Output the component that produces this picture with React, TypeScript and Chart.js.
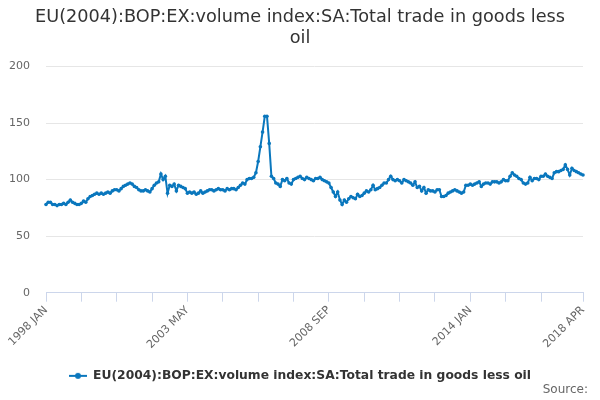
import { useEffect, useRef } from 'react';
import { Chart, registerables } from 'chart.js';

Chart.register(...registerables);

const SERIES_NAME = 'EU(2004):BOP:EX:volume index:SA:Total trade in goods less oil';
const MONTHS = ['JAN', 'FEB', 'MAR', 'APR', 'MAY', 'JUN', 'JUL', 'AUG', 'SEP', 'OCT', 'NOV', 'DEC'];
const START_YEAR = 1998;

// monthly values, one row per year (1998 JAN .. 2018 APR)
const tradeIndex = [
  78, 80, 80, 78, 78, 77, 78, 78, 79, 78, 80, 82, // 1998
  80, 79, 78, 78, 79, 81, 80, 83, 85, 86, 87, 88, // 1999
  87, 88, 87, 88, 89, 88, 90, 91, 91, 90, 92, 94, // 2000
  95, 96, 97, 96, 94, 93, 91, 90, 90, 91, 90, 89, // 2001
  92, 95, 97, 98, 105, 100, 103, 88, 95, 94, 96, 90, // 2002
  95, 94, 93, 92, 88, 89, 88, 89, 87, 88, 90, 88, // 2003
  89, 90, 91, 91, 90, 91, 92, 91, 91, 90, 92, 91, // 2004
  92, 92, 91, 93, 95, 97, 96, 100, 101, 101, 102, 106, // 2005
  116, 129, 142, 156, 156, 132, 103, 101, 97, 96, 94, 100, // 2006
  99, 101, 97, 96, 100, 101, 102, 103, 101, 100, 102, 101, // 2007
  100, 99, 101, 101, 102, 100, 99, 98, 97, 93, 89, 85, // 2008
  89, 82, 78, 82, 80, 83, 85, 84, 83, 87, 85, 86, // 2009
  88, 90, 89, 91, 95, 91, 92, 93, 95, 97, 97, 100, // 2010
  103, 100, 99, 100, 99, 97, 100, 99, 98, 97, 95, 98, // 2011
  93, 94, 90, 93, 88, 91, 90, 90, 89, 91, 91, 85, // 2012
  85, 86, 88, 89, 90, 91, 90, 89, 88, 89, 95, 95, // 2013
  96, 95, 96, 97, 98, 94, 96, 97, 97, 96, 98, 98, // 2014
  98, 97, 98, 100, 99, 99, 103, 106, 104, 103, 101, 100, // 2015
  97, 96, 97, 102, 99, 101, 101, 100, 103, 103, 105, 103, // 2016
  102, 101, 106, 107, 107, 108, 109, 113, 109, 104, 110, 108, // 2017
  107, 106, 105, 104, // 2018
];

const periods = tradeIndex.map(
  (_, i) => `${START_YEAR + Math.floor(i / 12)} ${MONTHS[i % 12]}`
);
const labelledTicks = ['1998 JAN', '2003 MAY', '2008 SEP', '2014 JAN', '2018 APR'];
const yTicks = [0, 50, 100, 150, 200];

const LINE_COLOR = '#0a77bd';
const FONT = '"DejaVu Sans", sans-serif';

function legendMarker() {
  const c = document.createElement('canvas');
  c.width = 18;
  c.height = 10;
  const ctx = c.getContext('2d');
  if (ctx) {
    ctx.strokeStyle = LINE_COLOR;
    ctx.fillStyle = LINE_COLOR;
    ctx.lineWidth = 2;
    ctx.beginPath();
    ctx.moveTo(0, 5);
    ctx.lineTo(18, 5);
    ctx.stroke();
    ctx.beginPath();
    ctx.arc(9, 5, 3, 0, Math.PI * 2);
    ctx.fill();
  }
  return c;
}

const sourceNote = {
  id: 'sourceNote',
  afterDraw(chart: Chart) {
    const { ctx, width, height } = chart;
    ctx.save();
    ctx.font = `12px ${FONT}`;
    ctx.fillStyle = '#666';
    ctx.textAlign = 'right';
    ctx.textBaseline = 'bottom';
    ctx.fillText('Source:', width - 12, height - 4);
    ctx.restore();
  },
};

export default function App() {
  const canvasRef = useRef<HTMLCanvasElement | null>(null);
  const chartRef = useRef<Chart | null>(null);

  useEffect(() => {
    const ctx = canvasRef.current?.getContext('2d');
    if (!ctx) return;

    if (chartRef.current) {
      chartRef.current.destroy();
    }

    chartRef.current = new Chart(ctx, {
      type: 'line',
      data: {
        labels: periods,
        datasets: [
          {
            label: SERIES_NAME,
            data: tradeIndex,
            borderColor: LINE_COLOR,
            backgroundColor: LINE_COLOR,
            borderWidth: 2,
            pointRadius: 1.8,
            pointBorderWidth: 0,
            pointHoverRadius: 3,
            tension: 0,
          },
        ],
      },
      options: {
        animation: false,
        responsive: true,
        maintainAspectRatio: false,
        layout: { padding: { left: 0, right: 0, bottom: 8 } },
        plugins: {
          title: {
            display: true,
            text: [
              'EU(2004):BOP:EX:volume index:SA:Total trade in goods less',
              'oil',
            ],
            color: '#333',
            font: { family: FONT, size: 17.7, weight: 'normal', lineHeight: 1.2 },
            padding: { top: 7, bottom: 17 },
          },
          legend: {
            position: 'bottom',
            labels: {
              usePointStyle: true,
              pointStyle: legendMarker(),
              pointStyleWidth: 18,
              color: '#333',
              font: { family: FONT, size: 12.3, weight: 'bold' },
              padding: 10,
            },
          },
          tooltip: { enabled: false },
        },
        scales: {
          x: {
            type: 'category',
            afterFit(scale) {
              scale.height = 67;
            },
            grid: {
              display: true,
              drawOnChartArea: false,
              drawTicks: true,
              tickLength: 9,
              color: '#ccd6eb',
            },
            border: { color: '#ccd6eb' },
            ticks: {
              autoSkip: false,
              minRotation: 45,
              maxRotation: 45,
              padding: 2,
              color: '#666',
              font: { family: FONT, size: 11 },
              callback(value, index) {
                const label = periods[index];
                if (labelledTicks.includes(label)) return label;
                if (index % 16 === 0 && index <= 224) return '';
                return null;
              },
            },
          },
          y: {
            min: 0,
            max: 200,
            afterFit(scale) {
              scale.width = 46;
            },
            afterBuildTicks(scale) {
              scale.ticks = yTicks.map((v) => ({ value: v }));
            },
            grid: { color: '#e6e6e6', drawTicks: false },
            border: { display: false },
            ticks: {
              padding: 16,
              color: '#666',
              font: { family: FONT, size: 11 },
            },
          },
          // empty right-hand spacer so title and legend stay centred on the page
          spacer: {
            type: 'linear',
            position: 'right',
            min: 0,
            max: 200,
            afterFit(scale) {
              scale.width = 17;
            },
            grid: { display: false, drawTicks: false },
            border: { display: false },
            ticks: { display: false },
          },
        },
      },
      plugins: [sourceNote],
    });

    return () => {
      if (chartRef.current) {
        chartRef.current.destroy();
        chartRef.current = null;
      }
    };
  }, []);

  return (
    <div style={{ position: 'absolute', left: 0, top: 0, width: 600, height: 400 }}>
      <canvas ref={canvasRef}></canvas>
    </div>
  );
}
